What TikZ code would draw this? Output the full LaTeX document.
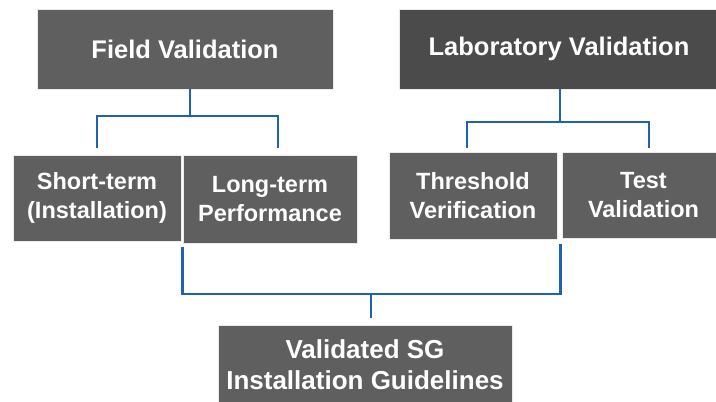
\documentclass[tikz,border=0pt]{standalone}
\usepackage{fontspec}
\setmainfont{Liberation Sans}
\definecolor{boxgray}{HTML}{5F5F5F}
\definecolor{boxdark}{HTML}{4B4B4B}
\definecolor{linkblue}{HTML}{1F62B4}
\tikzset{
	box/.style={draw=black!8, line width=0.8pt, fill=boxgray, text=white, align=center, inner sep=0pt,
		font=\fontsize{23.5}{28.5}\selectfont\bfseries},
	headbox/.style={box, minimum height=80pt, font=\fontsize{25.5}{30}\selectfont\bfseries},
	link/.style={linkblue, line width=2.4pt, line cap=butt, line join=miter}
}
\begin{document}
\begin{tikzpicture}[x=1pt, y=-1pt]
			\useasboundingbox (0,0) rectangle (716,402);

			\draw (185,49) node (field) [headbox, minimum width=296pt] {Field Validation};
			\draw (559,49) node (lab) [headbox, fill=boxdark, minimum width=320pt] {Laboratory Validation};

			\draw (97,198) node (st) [box, minimum width=168pt, minimum height=86pt] {Short-term\\(Installation)};
			\draw (270,199) node (lt) [box, minimum width=174pt, minimum height=88pt] {Long-term\\Performance};
			\draw (473,195.5) node (thr) [box, minimum width=168pt, minimum height=87pt] {Threshold\\Verification};
			\draw (643.5,195) node (tv) [box, minimum width=163pt, minimum height=86pt] {Test\\Validation};

			\draw (365,365) node (out) [box, minimum width=294pt, minimum height=80pt,
				font=\fontsize{26}{31}\selectfont\bfseries] {Validated SG\\Installation Guidelines};

			\coordinate (fieldjoin) at (190,116);
			\coordinate (labjoin) at (560,122);
			\coordinate (botjoin) at (371,294);

			\draw[link] ([xshift=5pt]field.south) -- (fieldjoin);
			\draw[link, shorten <=7pt, shorten >=7pt] (st.north) |- (fieldjoin) -| ([xshift=8pt]lt.north);

			\draw[link] ([xshift=1pt]lab.south) -- (labjoin);
			\draw[link, shorten <=4pt, shorten >=4pt] ([xshift=-6pt]thr.north) |- (labjoin) -| ([xshift=5.5pt]tv.north);

			\draw[link, shorten <=6pt, shorten >=6pt] ([xshift=1pt]st.south east) |- (botjoin) -| ([xshift=-1pt]tv.south west);
			\draw[link, shorten >=7pt] (botjoin) -- ([xshift=6pt]out.north);
		\end{tikzpicture}
\end{document}
